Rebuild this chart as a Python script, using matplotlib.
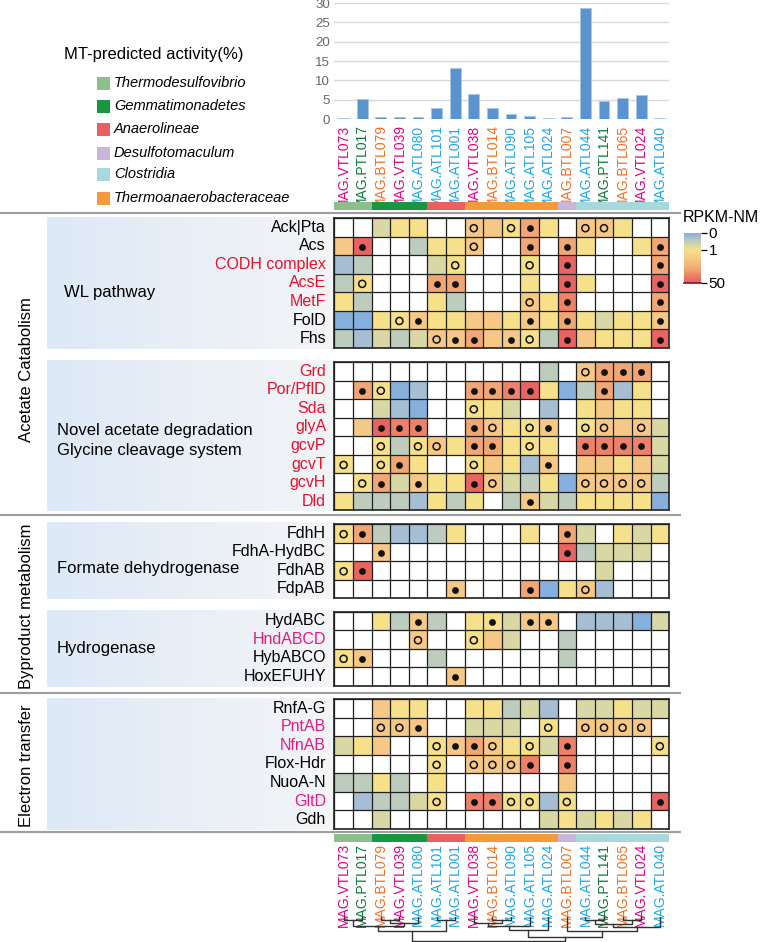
import numpy as np
import matplotlib
matplotlib.use("Agg")
import matplotlib.pyplot as plt
from matplotlib.colors import LinearSegmentedColormap
from matplotlib.patches import Rectangle
from matplotlib.transforms import blended_transform_factory as blend

plt.rcParams['font.family'] = ['Liberation Sans', 'DejaVu Sans']

W, H = 761, 942

# ---- data ---------------------------------------------------------------
mags = ["MAG.VTL073", "MAG.PTL017", "MAG.BTL079", "MAG.VTL039", "MAG.ATL080",
        "MAG.ATL101", "MAG.ATL001", "MAG.VTL038", "MAG.BTL014", "MAG.ATL090",
        "MAG.ATL105", "MAG.ATL024", "MAG.BTL007", "MAG.ATL044", "MAG.PTL141",
        "MAG.BTL065", "MAG.VTL024", "MAG.ATL040"]
activity = [0.3, 5.2, 0.5, 0.4, 0.6, 2.9, 13.1, 6.5, 2.9, 1.4,
            0.7, 0.15, 0.45, 28.7, 4.7, 5.4, 6.1, 0.2]
mag_taxon = ["Thermodesulfovibrio", "Thermodesulfovibrio",
             "Gemmatimonadetes", "Gemmatimonadetes", "Gemmatimonadetes",
             "Anaerolineae", "Anaerolineae",
             "Thermoanaerobacteraceae", "Thermoanaerobacteraceae",
             "Thermoanaerobacteraceae", "Thermoanaerobacteraceae",
             "Thermoanaerobacteraceae",
             "Desulfotomaculum",
             "Clostridia", "Clostridia", "Clostridia", "Clostridia", "Clostridia"]
taxa_legend = ["Thermodesulfovibrio", "Gemmatimonadetes", "Anaerolineae",
               "Desulfotomaculum", "Clostridia", "Thermoanaerobacteraceae"]
taxon_colors = {"Thermodesulfovibrio": "#8dbf8d", "Gemmatimonadetes": "#1a9641",
                "Anaerolineae": "#e8605f", "Desulfotomaculum": "#c9b4da",
                "Clostridia": "#a7d8db", "Thermoanaerobacteraceae": "#f39a3c"}
site_colors = {"VTL": "#e4007f", "PTL": "#0b7a38", "BTL": "#f36f21", "ATL": "#1ea6e8"}

# approximate RPKM-NM level for each cell code ('.' = not present)
level_value = {"b": 0.02, "s": 0.25, "g": 0.5, "v": 0.75, "y": 1.0,
               "l": 3.0, "o": 10.0, "e": 20.0, "r": 45.0}
# marks: 'o' open circle, '@' filled dot

wl_genes = ["Ack|Pta", "Acs", "CODH complex", "AcsE", "MetF", "FolD", "Fhs"]
wl_cells = ["..vyy..llyoy.lly..",
            "lr..gyyl..o.oy..yo",
            "sg...vy...y.r....o",
            "gy...oo...y.ry...r",
            "yg...yg...lye....o",
            "bbyylyyllylyoyvyyl",
            "gsvgvllollygrlyyyr"]
wl_marks = [".......o.o@..oo...",
            ".@.....o..@.@....@",
            "......o...o.@....@",
            ".o...@@.....@....@",
            "..........o.@....@",
            "...o@.....@.@....@",
            ".....o@@.@o.@....@"]

gly_genes = ["Grd", "Por/PflD", "Sda", "glyA", "gcvP", "gcvT", "gcvH", "Dld"]
gly_cells = ["...........g.looo.",
             ".oybs..ooerybgosy.",
             "..vsb..yyv.s.ylyy.",
             ".lree..olyyl.ylllv",
             "..ygylyooyyy.eeeev",
             "y.yoy..ylysl.llylv",
             ".yovlyyrlvgybllllg",
             "ygggsygy.glvgyyyyb"]
gly_marks = [".............o@@@.",
             ".@o....@@@@...@...",
             ".......o..........",
             "..@@@..@o.o@.oo.o.",
             "..o.oo.@@.o..@@@@.",
             "o.o@...o...@......",
             ".o@.@..@o....oooo.",
             "..........@......."]

fdh_genes = ["FdhH", "FdhA-HydBC", "FdhAB", "FdpAB"]
fdh_cells = ["yogssgy...y.ov.yvy",
             "..l.........rgvvv.",
             "yr............v...",
             "......l...obyls..."]
fdh_marks = ["o@..........@.....",
             "..@.........@.....",
             "o@................",
             "......@...@..o...."]

hyd_genes = ["HydABC", "HndABCD", "HybABCO", "HoxEFUHY"]
hyd_cells = ["..yglg.yyvll.sssbv",
             "....l..ylv..g.....",
             "yl...g......g.....",
             "......l..........."]
hyd_marks = ["....@...@.@@......",
             "....o..o..........",
             "o@................",
             "......@..........."]

et_genes = ["RnfA-G", "PntAB", "NfnAB", "Flox-Hdr", "NuoA-N", "GltD", "Gdh"]
et_cells = ["..lyy..yygvs.vvyvv",
            "..lll..vvv.y.llll.",
            "vyl..ylolyyve....y",
            ".....y.llle.e.....",
            "ggyg.y......l.....",
            ".sggvy.eeyysy....r",
            "..v........vyvyvy."]
et_marks = ["..................",
            "..oo@......o.oooo.",
            ".....o@@o.o.@....o",
            ".....o.ooo@.@.....",
            "..................",
            ".....o.@@oo.o....@",
            ".................."]

red_genes = {"CODH complex", "AcsE", "MetF", "Grd", "Por/PflD", "Sda", "glyA",
             "gcvP", "gcvT", "gcvH", "Dld"}
pink_genes = {"HndABCD", "PntAB", "NfnAB", "GltD"}

# dendrogram merges (node a, node b, height); leaves are 0..17
links = [(0, 1, 1.0), (2, 3, 1.0), (19, 4, 1.8), (18, 20, 2.6), (5, 6, 1.0),
         (21, 22, 4.1), (8, 9, 1.0), (7, 24, 1.8), (25, 10, 2.8), (26, 11, 3.8),
         (13, 14, 1.0), (15, 16, 1.0), (28, 29, 2.0), (30, 17, 3.0), (12, 31, 4.1),
         (27, 32, 6.0), (23, 33, 7.0)]

# ---- colour scale: 0 -> blue, 1 -> yellow, 50 -> red ----------------------
cmap = LinearSegmentedColormap.from_list("rpkm", [
    (0.00, "#86aedd"), (0.09, "#a8c0d2"), (0.17, "#bfcdbb"), (0.25, "#d9d8a5"),
    (0.333, "#f7e08a"), (0.52, "#f6c886"), (0.72, "#f2a874"), (0.85, "#ee8068"),
    (1.00, "#e8605f")])


def to_pos(v):
    v = np.asarray(v, float)
    return np.where(v <= 1, v / 3, 1 / 3 + (2 / 3) * np.log(np.maximum(v, 1)) / np.log(50))


def decode(rows):
    return np.array([[level_value.get(c, np.nan) for c in r] for r in rows])


fig = plt.figure(figsize=(W / 100, H / 100), dpi=100)


def px_axes(x0, y0, x1, y1, **kw):
    return fig.add_axes([x0 / W, 1 - y1 / H, (x1 - x0) / W, (y1 - y0) / H], **kw)


ov = px_axes(0, 0, W, H)
ov.set_zorder(-1)

HM_L, HM_R = 334.3, 669.1
ROW = 18.55
ncol = len(mags)

# ---- activity bars ----------------------------------------------------------
axb = px_axes(HM_L, 3, HM_R, 119)
axb.set_facecolor("none")
axb.bar(np.arange(ncol) + 0.5, activity, width=0.58, color="#5b93cf",
        edgecolor="#a9c6e6", lw=0.6, zorder=3)
axb.set_xlim(0, ncol)
axb.set_ylim(0, 30)
axb.set_yticks(range(0, 31, 5))
axb.set_xticks([])
axb.grid(axis="y", color="#d9d9d9", lw=1)
for s in axb.spines.values():
    s.set_visible(False)
axb.tick_params(axis="y", length=0, labelcolor="#666666", labelsize=9.5, pad=3)

tr_top = blend(axb.transData, ov.transData)
for i, m in enumerate(mags):
    col = site_colors[m[4:7]]
    ov.text(i + 0.5, 124.5, m, transform=tr_top, rotation=90, ha="center",
            va="top", fontsize=10, color=col)
    ov.text(i + 0.5, 843, m, transform=tr_top, rotation=90, ha="center",
            va="top", fontsize=10, color=col)

# taxonomy strips
for y0, y1 in [(202, 210), (834, 841.5)]:
    axt = px_axes(HM_L, y0, HM_R, y1)
    for i, t in enumerate(mag_taxon):
        axt.add_patch(Rectangle((i, 0), 1, 1, color=taxon_colors[t], lw=0))
    axt.set_xlim(0, ncol)
    axt.set_ylim(0, 1)
    axt.axis("off")

# ---- legend -----------------------------------------------------------------
ov.text(64, 55, "MT-predicted activity(%)", fontsize=12, ha="left", va="center")
for t, yc in zip(taxa_legend, [83, 106, 129, 153, 174, 198]):
    ov.add_patch(Rectangle((97, yc - 6.5), 13, 13, color=taxon_colors[t], lw=0))
    ov.text(114, yc, t, fontsize=10.5, style="italic", ha="left", va="center")

# ---- heat map blocks --------------------------------------------------------
blocks = [(wl_genes, wl_cells, wl_marks, 218.0),
          (gly_genes, gly_cells, gly_marks, 362.0),
          (fdh_genes, fdh_cells, fdh_marks, 524.0),
          (hyd_genes, hyd_cells, hyd_marks, 611.5),
          (et_genes, et_cells, et_marks, 699.0)]

bg_cmap = LinearSegmentedColormap.from_list("bg", ["#dde9f6", "#f4f5f7"])
grad = np.linspace(0, 1, 256)[None, :]

for genes, cells, marks, top in blocks:
    n = len(genes)
    bot = top + n * ROW
    ov.imshow(grad, extent=[47, HM_L, bot + 1, top - 1], cmap=bg_cmap,
              aspect="auto", zorder=0)
    ax = px_axes(HM_L, top, HM_R, bot)
    vals = np.ma.masked_invalid(to_pos(decode(cells)))
    ax.pcolormesh(np.arange(ncol + 1), np.arange(n + 1), vals, cmap=cmap,
                  vmin=0, vmax=1)
    for r, row in enumerate(marks):
        for c, ch in enumerate(row):
            if ch == "o":
                ax.scatter(c + 0.5, r + 0.55, s=26, facecolors="none",
                           edgecolors="#111111", lw=1.1, zorder=4)
            elif ch == "@":
                ax.scatter(c + 0.5, r + 0.55, s=24, color="#111111", lw=0, zorder=4)
    ax.set_xlim(0, ncol)
    ax.set_ylim(n, 0)
    ax.set_xticks([])
    ax.set_yticks([])
    ax.set_xticks(np.arange(ncol + 1), minor=True)
    ax.set_yticks(np.arange(n + 1), minor=True)
    ax.grid(which="minor", color="#1e1e1e", lw=0.9)
    ax.set_axisbelow(False)
    ax.tick_params(which="both", length=0)
    for s in ax.spines.values():
        s.set_color("#333333")
        s.set_linewidth(1.3)
    tr = blend(ov.transData, ax.transData)
    for r, g in enumerate(genes):
        col = "#e8112d" if g in red_genes else ("#e5198a" if g in pink_genes else "black")
        ov.text(326, r + 0.5, g, transform=tr, ha="right", va="center",
                fontsize=11.5, color=col)

# block titles
ov.text(64, 292, "WL pathway", fontsize=12, va="center")
ov.text(57, 431, "Novel acetate degradation", fontsize=12, va="center")
ov.text(57, 451, "Glycine cleavage system", fontsize=12, va="center")
ov.text(57, 569, "Formate dehydrogenase", fontsize=12, va="center")
ov.text(57, 649, "Hydrogenase", fontsize=12, va="center")
ov.text(27, 370, "Acetate Catabolism", fontsize=12, rotation=90, ha="center", va="center")
ov.text(27, 606, "Byproduct metabolism", fontsize=12, rotation=90, ha="center", va="center")
ov.text(27, 766, "Electron transfer", fontsize=12, rotation=90, ha="center", va="center")

for y in [213, 515, 692.5, 832]:
    ov.plot([0, 680], [y, y], color="#9e9e9e", lw=1.5, zorder=1)

# ---- colour bar -------------------------------------------------------------
ov.text(683, 218, "RPKM-NM", fontsize=11.5, ha="left", va="center")
cax = px_axes(684, 233, 701, 283)
cax.imshow(np.linspace(0, 1, 256)[:, None], aspect="auto", cmap=cmap,
           extent=[0, 1, 1, 0])
cax.set_xlim(0, 1)
cax.set_ylim(1, 0)
cax.set_xticks([])
cax.yaxis.tick_right()
cax.set_yticks([0, 1 / 3, 1], ["0", "1", "50"])
cax.tick_params(axis="y", length=4, width=0.9, labelsize=11, pad=1.5)
for k, s in cax.spines.items():
    s.set_visible(k == "bottom")
cax.spines["bottom"].set_color("#7a1c1c")
cax.spines["bottom"].set_linewidth(1.2)

# ---- dendrogram -------------------------------------------------------------
axd = px_axes(HM_L, 917, HM_R, 942)
node_x = [i + 0.5 for i in range(ncol)]
node_h = [0.0] * ncol
for a, b, h in links:
    xa, xb = node_x[a], node_x[b]
    axd.plot([xa, xa, xb, xb], [node_h[a], h, h, node_h[b]], color="#333333", lw=1)
    node_x.append((xa + xb) / 2)
    node_h.append(h)
axd.set_xlim(0, ncol)
axd.set_ylim(7.4, 0)
axd.axis("off")

ov.set_xlim(0, W)
ov.set_ylim(H, 0)
ov.axis("off")

fig.savefig("out.png", dpi=100)
